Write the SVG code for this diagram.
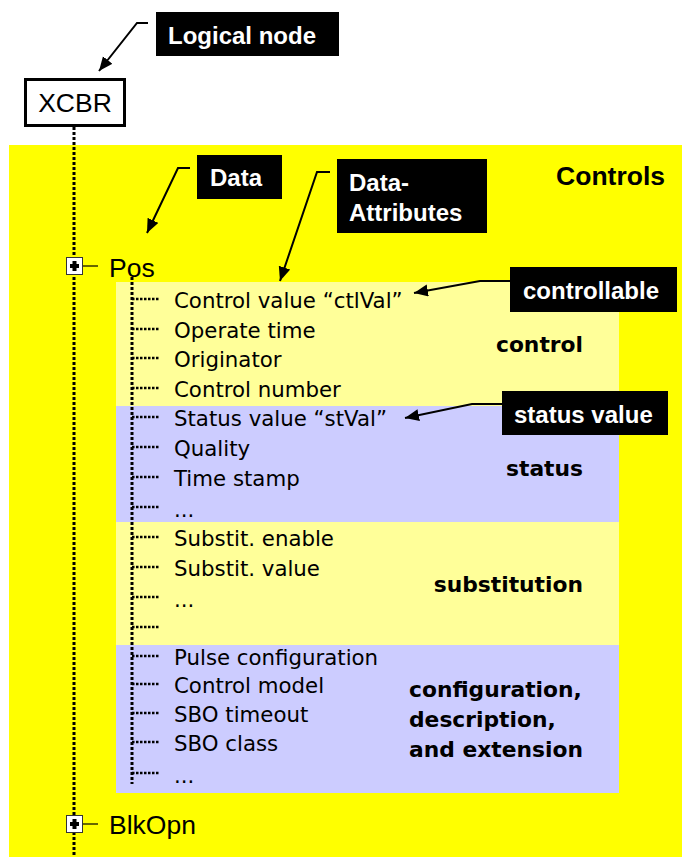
<svg xmlns="http://www.w3.org/2000/svg" width="682" height="857" viewBox="0 0 682 857">
<style>
.bg{fill:#FFFF00}
.ly{fill:#FFFF99}
.lv{fill:#CCCCFF}
.tag{fill:#000}
.tagt{font-family:"Liberation Sans",Arial,sans-serif;font-weight:bold;font-size:24px;fill:#fff}
.row{font-family:"DejaVu Sans",Tahoma,sans-serif;font-size:21.3px;fill:#000}
.grp{font-family:"DejaVu Sans",Tahoma,sans-serif;font-weight:bold;font-size:21.8px;fill:#000}
.big{font-family:"Liberation Sans",Arial,sans-serif;font-size:26.5px;fill:#000}
.dot{stroke:#000;stroke-width:3;stroke-dasharray:3 2;fill:none}
.stub{stroke:#000;stroke-width:2.5;stroke-dasharray:2.5 1.5;fill:none}
.arr{stroke:#000;stroke-width:2;fill:none;marker-end:url(#ah)}
</style>
<defs>
<marker id="ah" markerUnits="userSpaceOnUse" markerWidth="16" markerHeight="14" refX="14" refY="6" orient="auto">
<path d="M0,0 L14,6 L0,12 Z" fill="#000"/>
</marker>
</defs>
<rect x="0" y="0" width="682" height="857" fill="#fff"/>
<rect class="bg" x="9" y="145" width="673" height="712"/>
<g id="sections">
<rect class="ly" x="116" y="282" width="503" height="124"/>
<rect class="lv" x="116" y="406" width="503" height="116"/>
<rect class="ly" x="116" y="522" width="503" height="123"/>
<rect class="lv" x="116" y="645" width="503" height="148"/>
</g>
<g id="connectors">
<line class="dot" x1="74" y1="127" x2="74" y2="857"/>
<line class="dot" x1="132" y1="277" x2="132" y2="784"/>
<path class="stub" d="M132,299H160M132,329H160M132,358H160M132,388H160M132,417H160M132,447H160M132,477H160M132,507H160M132,537H160M132,567H160M132,597H160M132,627H160M132,656H160M132,684H160M132,713H160M132,742H160M132,773H160"/>
<line x1="82" y1="266" x2="98" y2="266" stroke="#000" stroke-width="1.2"/>
<line x1="82" y1="824" x2="98" y2="824" stroke="#000" stroke-width="1.2"/>
<polyline class="arr" points="148,23 137,23 99,71"/>
<polyline class="arr" points="190,168 178,168 147,233"/>
<polyline class="arr" points="330,172 317,172 280,281"/>
<polyline class="arr" points="510,281 480,281 414,293"/>
<polyline class="arr" points="502,404 472,404 405,418"/>
</g>
<g id="xcbr">
<rect x="25.5" y="79.5" width="99" height="46" fill="#fff" stroke="#000" stroke-width="3"/>
<text class="big" x="75" y="112" text-anchor="middle">XCBR</text>
</g>
<g id="label-logical-node">
<rect class="tag" x="156" y="12" width="183" height="44"/>
<text class="tagt" x="168" y="44">Logical node</text>
</g>
<g id="label-data">
<rect class="tag" x="197" y="155" width="85" height="44"/>
<text class="tagt" x="210" y="186">Data</text>
</g>
<g id="label-data-attributes">
<rect class="tag" x="337" y="159" width="150" height="74"/>
<text class="tagt" x="349" y="191">Data-</text>
<text class="tagt" x="349" y="221">Attributes</text>
</g>
<g id="label-controls">
<text class="tagt" x="665" y="185" text-anchor="end" style="fill:#000;font-size:26.5px">Controls</text>
</g>
<g id="label-controllable">
<rect class="tag" x="510" y="267" width="167" height="45"/>
<text class="tagt" x="523" y="299">controllable</text>
</g>
<g id="label-status-value">
<rect class="tag" x="502" y="391" width="166" height="44"/>
<text class="tagt" x="514" y="423">status value</text>
</g>
<g id="pos">
<rect x="66.5" y="257.5" width="16" height="17" fill="#fff" stroke="#333" stroke-width="1"/>
<path d="M70,264H79V268H70Z M72.5,261H76.5V271H72.5Z" fill="#000"/>
<text class="big" x="109" y="277">Pos</text>
</g>
<g id="blkopn">
<rect x="66.5" y="815.5" width="16" height="17" fill="#fff" stroke="#333" stroke-width="1"/>
<path d="M70,822H79V826H70Z M72.5,819H76.5V829H72.5Z" fill="#000"/>
<text class="big" x="109" y="834">BlkOpn</text>
</g>
<g id="attributes">
<text class="row" x="174" y="308">Control value “ctlVal”</text>
<text class="row" x="174" y="338">Operate time</text>
<text class="row" x="174" y="367">Originator</text>
<text class="row" x="174" y="397">Control number</text>
<text class="row" x="174" y="426">Status value “stVal”</text>
<text class="row" x="174" y="456">Quality</text>
<text class="row" x="174" y="486">Time stamp</text>
<text class="row" x="174" y="517">...</text>
<text class="row" x="174" y="546">Substit. enable</text>
<text class="row" x="174" y="576">Substit. value</text>
<text class="row" x="174" y="607">...</text>
<text class="row" x="174" y="665">Pulse configuration</text>
<text class="row" x="174" y="693">Control model</text>
<text class="row" x="174" y="722">SBO timeout</text>
<text class="row" x="174" y="751">SBO class</text>
<text class="row" x="174" y="783">...</text>
</g>
<g id="groups">
<text class="grp" x="583" y="352" text-anchor="end">control</text>
<text class="grp" x="583" y="476" text-anchor="end">status</text>
<text class="grp" x="583" y="592" text-anchor="end">substitution</text>
<text class="grp" x="409" y="697">configuration,</text>
<text class="grp" x="409" y="727">description,</text>
<text class="grp" x="409" y="757">and extension</text>
</g>
</svg>
